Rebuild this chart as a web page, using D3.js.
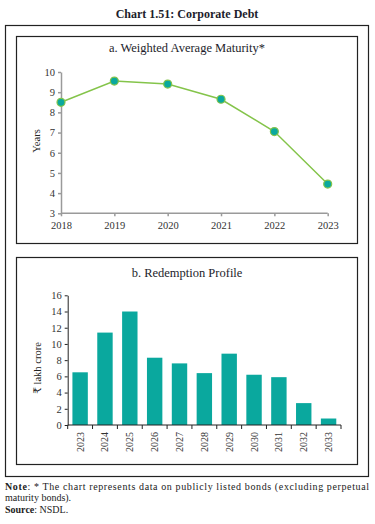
<!DOCTYPE html>
<html>
<head>
<meta charset="utf-8">
<script src="https://cdn.jsdelivr.net/npm/d3@7"></script>
<style>
  body { margin: 0; background: #fff; }
  text { font-family: "Liberation Serif", "DejaVu Serif", serif; }
</style>
</head>
<body>
<div id="chart"></div>
<script>
// weighted average maturity (years)
var wamYears = ["2018", "2019", "2020", "2021", "2022", "2023"];
var wamValues = [8.5, 9.55, 9.4, 8.65, 7.05, 4.45];
var wamTicks = [3, 4, 5, 6, 7, 8, 9, 10];

// redemption profile (lakh crore)
var redYears = ["2023", "2024", "2025", "2026", "2027", "2028", "2029", "2030", "2031", "2032", "2033"];
var redValues = [6.5, 11.4, 14.0, 8.3, 7.6, 6.4, 8.8, 6.2, 5.9, 2.7, 0.8];
var redTicks = [0, 2, 4, 6, 8, 10, 12, 14, 16];

var width = 375, height = 524;
var lineColor = "#84c44a", dotColor = "#0aa89e", barColor = "#0aa89e";

var svg = d3.select("#chart").append("svg")
    .attr("width", width)
    .attr("height", height);

svg.append("text")
    .attr("x", 187).attr("y", 18)
    .attr("text-anchor", "middle")
    .style("font-size", "12px")
    .style("font-weight", "bold")
    .style("fill", "#1d1d2b")
    .text("Chart 1.51: Corporate Debt");

// outer box
svg.append("rect")
    .attr("x", 5.5).attr("y", 25.5)
    .attr("width", 363).attr("height", 451)
    .attr("fill", "none").attr("stroke", "#222").attr("stroke-width", 1.2);

// panel boxes
svg.append("rect")
    .attr("x", 16.5).attr("y", 36.5)
    .attr("width", 341).attr("height", 207)
    .attr("fill", "none").attr("stroke", "#222").attr("stroke-width", 1.2);
svg.append("rect")
    .attr("x", 16.5).attr("y", 257.5)
    .attr("width", 341).attr("height", 207)
    .attr("fill", "none").attr("stroke", "#222").attr("stroke-width", 1.2);

// ---- panel a
svg.append("text")
    .attr("x", 187).attr("y", 52)
    .attr("text-anchor", "middle")
    .style("font-size", "12.5px")
    .style("fill", "#1d1d2b")
    .text("a. Weighted Average Maturity*");

var xa = d3.scalePoint().domain(wamYears).range([61, 327.7]);
var ya = d3.scaleLinear().domain([3, 10]).range([213.3, 72]);

var axA = svg.append("g").attr("transform", "translate(0,213.3)")
    .call(d3.axisBottom(xa).tickSize(3).tickSizeOuter(0));
axA.select(".domain").attr("d", "M61,0H327.7");
var ayA = svg.append("g").attr("transform", "translate(61,0)")
    .call(d3.axisLeft(ya).tickValues(wamTicks).tickFormat(d3.format("d")).tickSize(3).tickSizeOuter(0));
[axA, ayA].forEach(function(g) {
  g.selectAll("path,line").attr("stroke", "#9a9a9a").attr("stroke-width", 1.5);
  g.selectAll("text").style("font-size", "10.5px").style("fill", "#333")
    .style("font-family", "'Liberation Serif', serif");
});
axA.selectAll("text").attr("dy", "0.9em");

svg.append("text")
    .attr("transform", "translate(40,141) rotate(-90)")
    .attr("text-anchor", "middle")
    .style("font-size", "10.5px")
    .style("fill", "#222")
    .text("Years");

var line = d3.line()
    .x(function(d, i) { return xa(wamYears[i]); })
    .y(function(d) { return ya(d); });

svg.append("path")
    .datum(wamValues)
    .attr("d", line)
    .attr("fill", "none")
    .attr("stroke", lineColor)
    .attr("stroke-width", 1.5);

svg.selectAll(".dot")
    .data(wamValues)
  .enter().append("circle")
    .attr("class", "dot")
    .attr("cx", function(d, i) { return xa(wamYears[i]); })
    .attr("cy", function(d) { return ya(d); })
    .attr("r", 4)
    .attr("fill", dotColor)
    .attr("stroke", lineColor)
    .attr("stroke-width", 1.2);

// ---- panel b
svg.append("text")
    .attr("x", 187).attr("y", 277)
    .attr("text-anchor", "middle")
    .style("font-size", "12.5px")
    .style("fill", "#1d1d2b")
    .text("b. Redemption Profile");

var xb = d3.scaleBand().domain(redYears).range([67.7, 341]).paddingInner(0.38).paddingOuter(0.19);
var yb = d3.scaleLinear().domain([0, 16]).range([425, 295.3]);

svg.selectAll(".bar")
    .data(redValues)
  .enter().append("rect")
    .attr("class", "bar")
    .attr("x", function(d, i) { return xb(redYears[i]); })
    .attr("y", function(d) { return yb(d); })
    .attr("width", xb.bandwidth())
    .attr("height", function(d) { return yb(0) - yb(d); })
    .attr("fill", barColor);

var step = (341 - 67.7) / redYears.length;
var axB = svg.append("g").attr("transform", "translate(0,425)")
    .call(d3.axisBottom(xb).tickSize(0).tickSizeOuter(0));
axB.select(".domain").attr("d", "M67.7,0H341");
// ticks between categories
axB.selectAll(".sep")
    .data(d3.range(redYears.length + 1))
  .enter().append("line")
    .attr("class", "sep")
    .attr("x1", function(i) { return 67.7 + i * step; })
    .attr("x2", function(i) { return 67.7 + i * step; })
    .attr("y1", 0).attr("y2", 4);
axB.selectAll("text")
    .attr("transform", "rotate(-90)")
    .attr("text-anchor", "end")
    .attr("x", -7).attr("y", 0).attr("dy", "0.35em");

var ayB = svg.append("g").attr("transform", "translate(67.7,0)")
    .call(d3.axisLeft(yb).tickValues(redTicks).tickSize(3).tickSizeOuter(0));
[axB, ayB].forEach(function(g) {
  g.selectAll("path,line").attr("stroke", "#222").attr("stroke-width", 1);
  g.selectAll("text").style("font-size", "10.5px").style("fill", "#333")
    .style("font-family", "'Liberation Serif', serif");
});
axB.selectAll("text").style("font-size", "10px");

svg.append("text")
    .attr("transform", "translate(41,368) rotate(-90)")
    .attr("text-anchor", "middle")
    .style("font-size", "10.5px")
    .style("fill", "#222")
    .text("₹  lakh crore");

// ---- notes
var note1 = svg.append("text")
    .attr("x", 5).attr("y", 490)
    .attr("textLength", 364)
    .attr("lengthAdjust", "spacing")
    .style("font-size", "10px")
    .style("fill", "#222");
note1.append("tspan").style("font-weight", "bold").text("Note");
note1.append("tspan").text(": * The chart represents data on publicly listed bonds (excluding perpetual");

svg.append("text")
    .attr("x", 5).attr("y", 501)
    .style("font-size", "10px")
    .style("fill", "#222")
    .text("maturity bonds).");

var src = svg.append("text")
    .attr("x", 5).attr("y", 513)
    .style("font-size", "10px")
    .style("fill", "#222");
src.append("tspan").style("font-weight", "bold").text("Source");
src.append("tspan").text(": NSDL.");
</script>
</body>
</html>
